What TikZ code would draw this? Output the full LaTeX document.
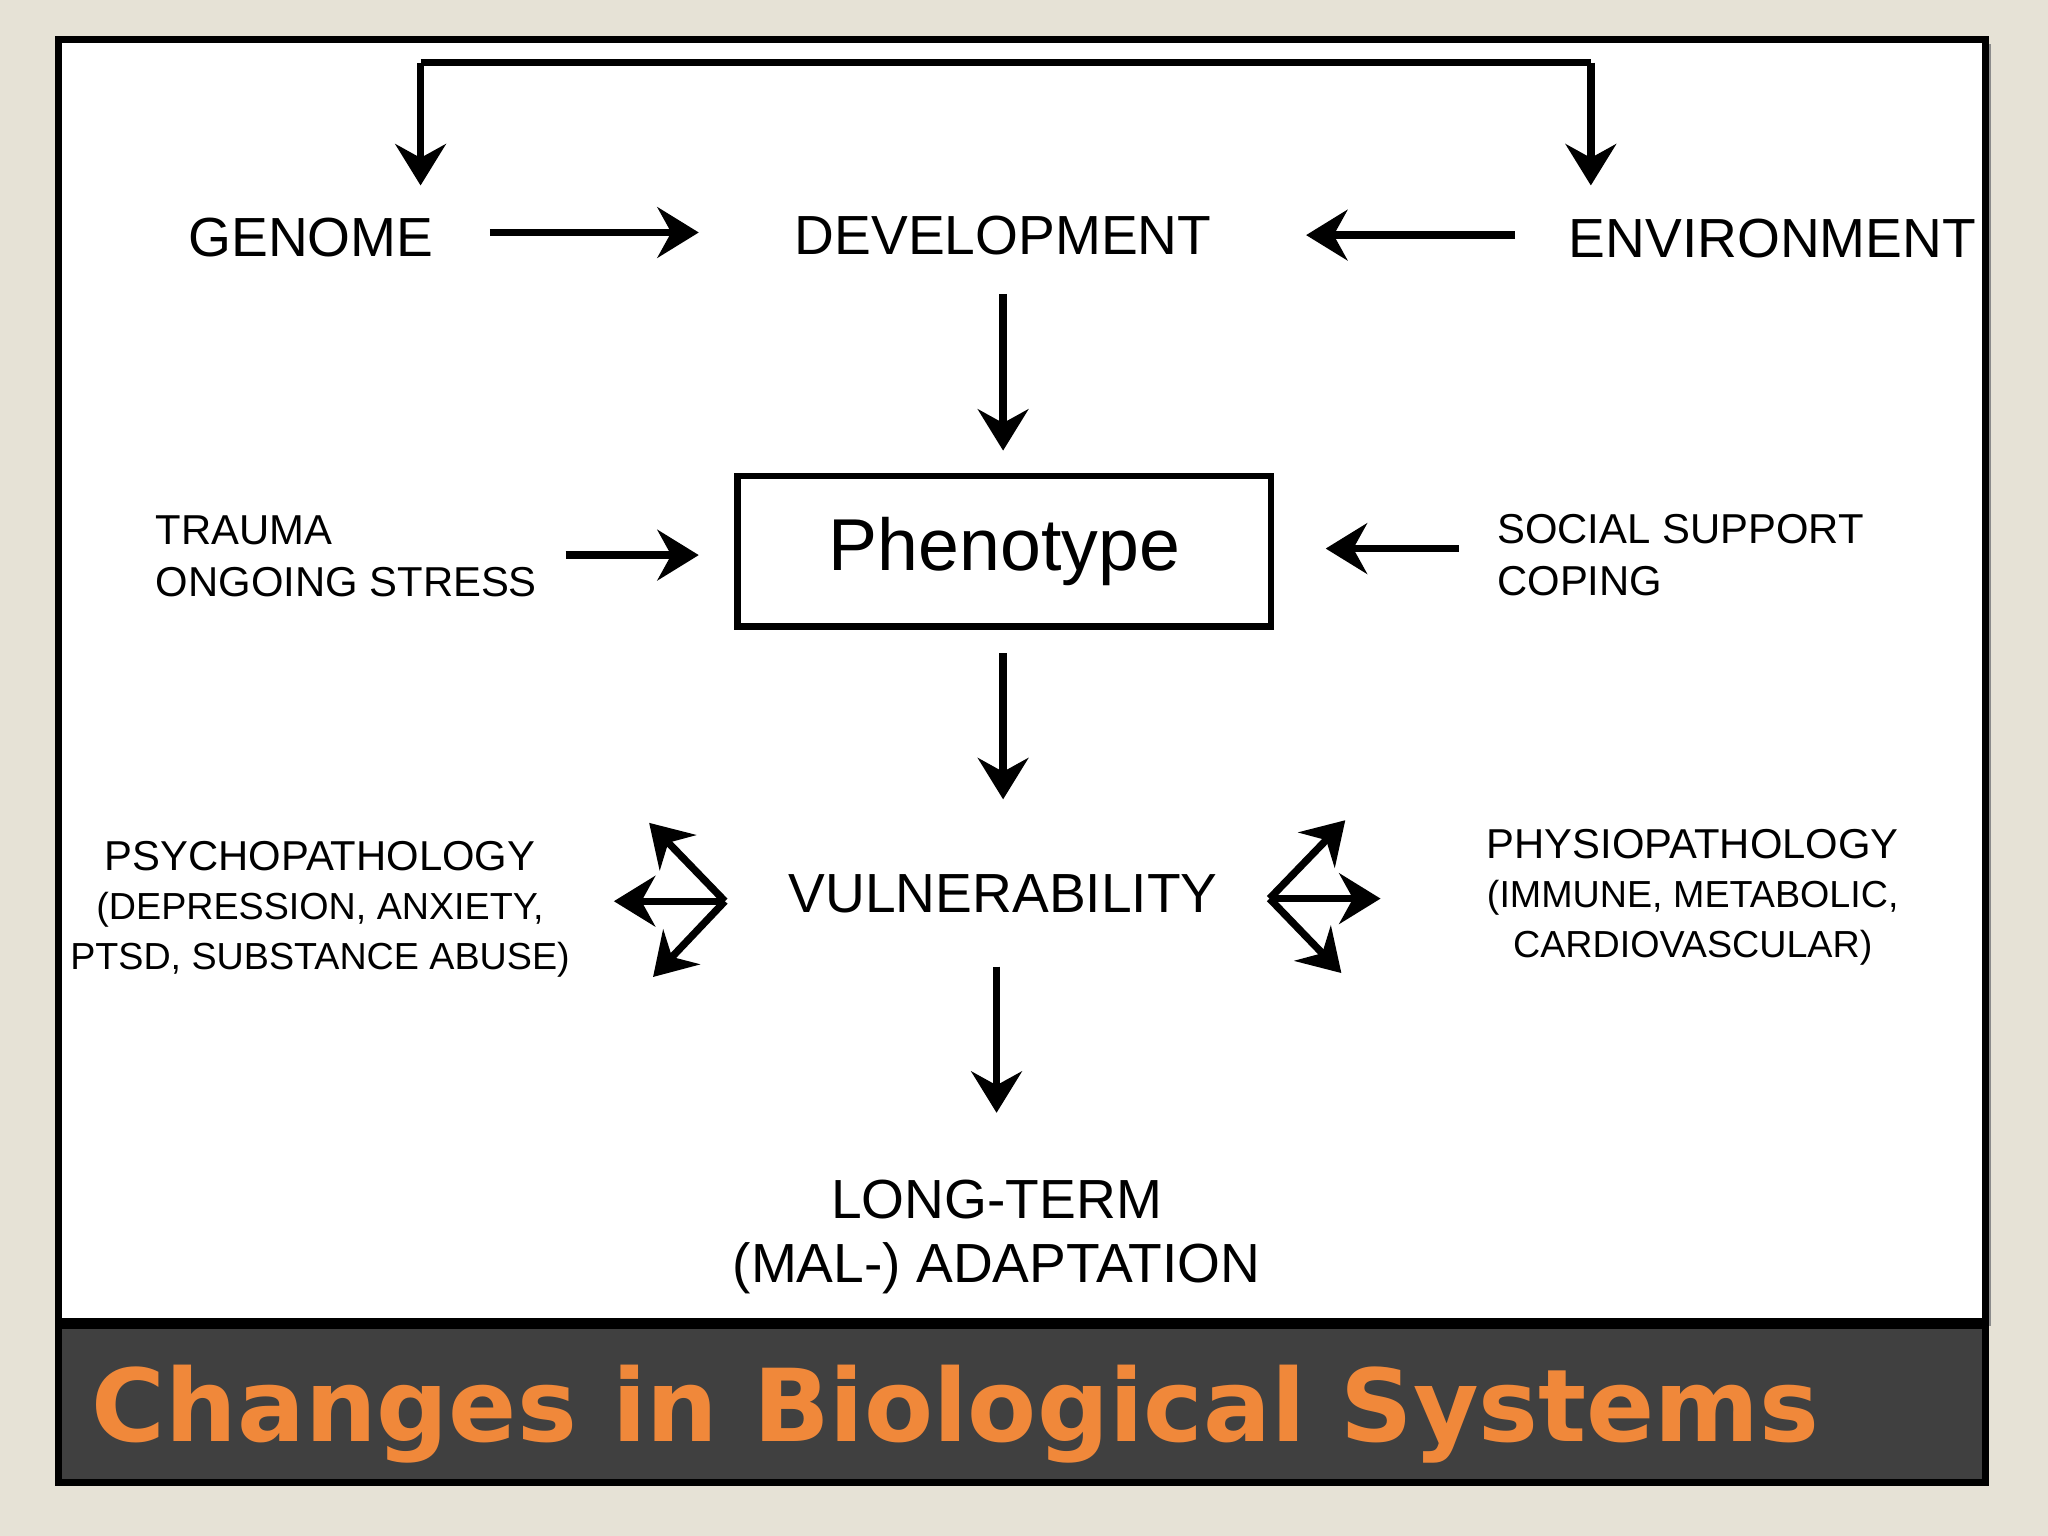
\documentclass[tikz,border=0pt]{standalone}
\usepackage{fontspec}
\setmainfont{Liberation Sans}
\newfontfamily\titlefont{DejaVu Sans}
\usetikzlibrary{arrows.meta}
\definecolor{bg}{HTML}{E6E2D6}
\definecolor{bar}{HTML}{404040}
\definecolor{org}{HTML}{F0883A}
\begin{document}
\begin{tikzpicture}[x=0.01cm,y=-0.01cm,
  ln/.style={line width=1.6pt},
  arr/.style={line width=1.6pt,-{Stealth[length=9pt,width=11pt,inset=3pt]}},
  big/.style={font=\fontsize{12}{14}\selectfont},
  small/.style={font=\fontsize{9.1}{11.5}\selectfont},
  tiny/.style={font=\fontsize{8.2}{10.8}\selectfont,align=center}]
\fill[bg] (0,0) rectangle (1568,1176);
\useasboundingbox (0,0) rectangle (1568,1176);
\fill[black!45] (49,34) rectangle (1524,1015);
\draw[fill=white,line width=1.6pt] (45,30) rectangle (1520,1012);
\draw[fill=bar,line width=1.6pt] (45,1015) rectangle (1520,1135);
\node[anchor=west,text=org,font=\titlefont\bfseries\fontsize{21.9}{26}\selectfont] (title) at (58,1083) {Changes in Biological Systems};

\node[big] (gen) at (238,182) {GENOME};
\node[big] (dev) at (768,180) {DEVELOPMENT};
\node[big] (env) at (1357,183) {ENVIRONMENT};
\node[draw,line width=1.5pt,font=\fontsize{16}{19}\selectfont,minimum width=4.08cm,minimum height=1.15cm] (ph) at (769,422) {Phenotype};
\node[small,anchor=west,align=left] (tr) at (107,426) {TRAUMA\\ONGOING STRESS};
\node[small,anchor=west,align=left] (ss) at (1134,425) {SOCIAL SUPPORT\\COPING};
\node[big] (vul) at (768,684) {VULNERABILITY};
\node[tiny] (psy) at (245,696) {{\fontsize{9.1}{11}\selectfont PSYCHOPATHOLOGY}\\(DEPRESSION, ANXIETY,\\PTSD, SUBSTANCE ABUSE)};
\node[tiny] (phy) at (1296,687) {{\fontsize{9.1}{11}\selectfont PHYSIOPATHOLOGY}\\(IMMUNE, METABOLIC,\\CARDIOVASCULAR)};
\node[big,align=center] (lt) at (763,947) {LONG-TERM\\(MAL-) ADAPTATION};

\coordinate (t1) at (322,48); \coordinate (t2) at (1218,48);
\draw[ln] (t1) -- (t2);
\draw[arr] (t1) -- (322,142);
\draw[arr] (t2) -- (1218,142);
\draw[arr] (375,178) -- (535,178);
\draw[arr] (1160,180) -- (1000,180);
\draw[arr] (768,225) -- (768,345);
\draw[arr] (433,425) -- (535,425);
\draw[arr] (1117,420) -- (1015,420);
\draw[arr] (768,500) -- (768,612);
\draw[arr] (763,740) -- (763,852);
\coordinate (lv) at (555,690);
\draw[arr] (lv) -- (497,630);
\draw[arr] (lv) -- (500,748);
\draw[arr] (lv) -- (470,690);
\coordinate (rv) at (972,688);
\draw[arr] (rv) -- (1030,628);
\draw[arr] (rv) -- (1027,745);
\draw[arr] (rv) -- (1057,688);
\end{tikzpicture}
\end{document}
